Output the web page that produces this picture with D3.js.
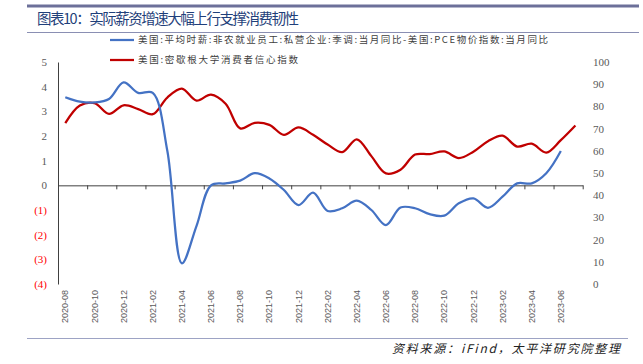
<!DOCTYPE html>
<html>
<head>
<meta charset="utf-8">
<script src="https://cdn.jsdelivr.net/npm/d3@7"></script>
<style>
  body { margin: 0; background: #fff; }
  svg { display: block; }
</style>
</head>
<body>
<svg width="643" height="364"></svg>
<script>
var months = ["2020-08","2020-09","2020-10","2020-11","2020-12",
  "2021-01","2021-02","2021-03","2021-04","2021-05","2021-06","2021-07","2021-08","2021-09","2021-10","2021-11","2021-12",
  "2022-01","2022-02","2022-03","2022-04","2022-05","2022-06","2022-07","2022-08","2022-09","2022-10","2022-11","2022-12",
  "2023-01","2023-02","2023-03","2023-04","2023-05","2023-06","2023-07"];

// real wage growth, % (left axis), ends 2023-06
var realWage = [3.57, 3.39, 3.36, 3.5, 4.17,
  3.75, 3.75, 1.4, -3.16, -1.65, 0.0, 0.08, 0.19, 0.49, 0.28, -0.19, -0.8,
  -0.3, -1.04, -0.93, -0.62, -1.0, -1.61, -0.9, -0.93, -1.17, -1.23, -0.73, -0.53,
  -0.91, -0.46, 0.08, 0.08, 0.49, 1.39];

// Michigan consumer sentiment (right axis)
var sentiment = [72.5, 80.4, 81.5, 76.6, 80.5,
  78.8, 76.5, 84.0, 88.0, 82.6, 85.3, 81.2, 70.1, 72.6, 71.7, 67.2, 70.5,
  67.2, 62.8, 59.4, 65.2, 57.6, 49.8, 51.5, 58.3, 58.5, 59.7, 56.7, 59.6,
  64.3, 66.8, 61.9, 63.2, 59.2, 64.8, 71.4];

var leftTicks = [5, 4, 3, 2, 1, 0, -1, -2, -3, -4];
var rightTicks = [0, 10, 20, 30, 40, 50, 60, 70, 80, 90, 100];

var legendNames = ["美国:平均时薪:非农就业员工:私营企业:季调:当月同比-美国:PCE物价指数:当月同比",
  "美国:密歇根大学消费者信心指数"];
var colors = ["#4472c4", "#c00000"];

var svg = d3.select("svg");

// header
svg.append("rect").attr("x", 27).attr("y", 4.5).attr("width", 612).attr("height", 3).attr("fill", "#6c7099");
svg.append("text").attr("x", 37).attr("y", 24)
  .style("font-family", "'Noto Sans CJK SC'").style("font-size", "14.5px")
  .attr("fill", "#1f3f7a")
  .attr("textLength", 262).attr("lengthAdjust", "spacing")
  .text("图表10：实际薪资增速大幅上行支撑消费韧性");
svg.append("line").attr("x1", 27).attr("x2", 639).attr("y1", 32.5).attr("y2", 32.5)
  .attr("stroke", "#8a8fb3").attr("stroke-width", 1);

// scales
var x = d3.scaleBand().domain(months).range([58, 582.7]).padding(0);
var xi = d3.scaleLinear().domain([0, months.length]).range([58, 582.7]);
var yL = d3.scaleLinear().domain([-4, 5]).range([284, 62]);
var yR = d3.scaleLinear().domain([0, 100]).range([284, 62]);

function cx(d, i) { return x(months[i]) + x.bandwidth() / 2; }

// left axis
var gL = svg.append("g").attr("transform", "translate(58,0)")
  .call(d3.axisLeft(yL).tickValues(leftTicks).tickSize(0).tickPadding(11)
    .tickFormat(function(d) { return d < 0 ? "(" + (-d) + ")" : d; }));
gL.select(".domain").attr("stroke", "#404040");
gL.selectAll("text")
  .style("font-family", "'Liberation Serif'").style("font-size", "11px")
  .attr("fill", function(d) { return d < 0 ? "#ff0000" : "#595959"; });

// right axis (labels only)
var gR = svg.append("g").attr("transform", "translate(583,0)")
  .call(d3.axisRight(yR).tickValues(rightTicks).tickSize(0).tickPadding(10));
gR.select(".domain").remove();
gR.selectAll("text")
  .style("font-family", "'Liberation Serif'").style("font-size", "11px")
  .attr("fill", "#595959");

// zero line with tick marks
var gZ = svg.append("g").attr("transform", "translate(0," + yL(0) + ")")
  .call(d3.axisBottom(xi).tickValues(d3.range(0, months.length + 1, 2)).tickSize(4).tickSizeOuter(0).tickFormat(""));
gZ.selectAll("path, line").attr("stroke", "#404040");

// x labels
var gX = svg.append("g").attr("transform", "translate(0,290)")
  .call(d3.axisBottom(x).tickValues(months.filter(function(d, i) { return i % 2 === 0 && i < 35; })).tickSize(0));
gX.select(".domain").remove();
gX.selectAll("text")
  .attr("transform", "rotate(-90)")
  .attr("x", 0).attr("y", 0).attr("dy", "0.35em")
  .style("text-anchor", "end")
  .style("font-family", "'Liberation Sans'").style("font-size", "9px")
  .attr("fill", "#595959");

// lines
var lineL = d3.line().x(cx).y(function(d) { return yL(d); }).curve(d3.curveCatmullRom.alpha(0.5));
var lineR = d3.line().x(cx).y(function(d) { return yR(d); }).curve(d3.curveCatmullRom.alpha(0.5));

svg.append("path").datum(sentiment).attr("d", lineR)
  .attr("fill", "none").attr("stroke", colors[1]).attr("stroke-width", 2.25);
svg.append("path").datum(realWage).attr("d", lineL)
  .attr("fill", "none").attr("stroke", colors[0]).attr("stroke-width", 2.25);

// legend
var leg = svg.append("g");
[40, 60].forEach(function(yy, i) {
  leg.append("line").attr("x1", 110).attr("x2", 134).attr("y1", yy).attr("y2", yy)
    .attr("stroke", colors[i]).attr("stroke-width", 2.25);
  leg.append("text").attr("x", 138).attr("y", yy).attr("dy", "0.35em")
    .style("font-family", "'Noto Sans CJK SC'").style("font-size", "9.5px")
    .attr("fill", "#404040")
    .attr("textLength", i === 0 ? 410 : 160).attr("lengthAdjust", "spacing")
    .text(legendNames[i]);
});

// footer
svg.append("line").attr("x1", 27).attr("x2", 628).attr("y1", 338.5).attr("y2", 338.5)
  .attr("stroke", "#9da3c4").attr("stroke-width", 1);
svg.append("text").attr("x", 620).attr("y", 353)
  .style("font-family", "'Noto Sans CJK SC'").style("font-size", "12px").style("font-style", "italic")
  .style("text-anchor", "end").attr("fill", "#222")
  .attr("textLength", 228).attr("lengthAdjust", "spacing")
  .text("资料来源：iFind，太平洋研究院整理");
</script>
</body>
</html>
